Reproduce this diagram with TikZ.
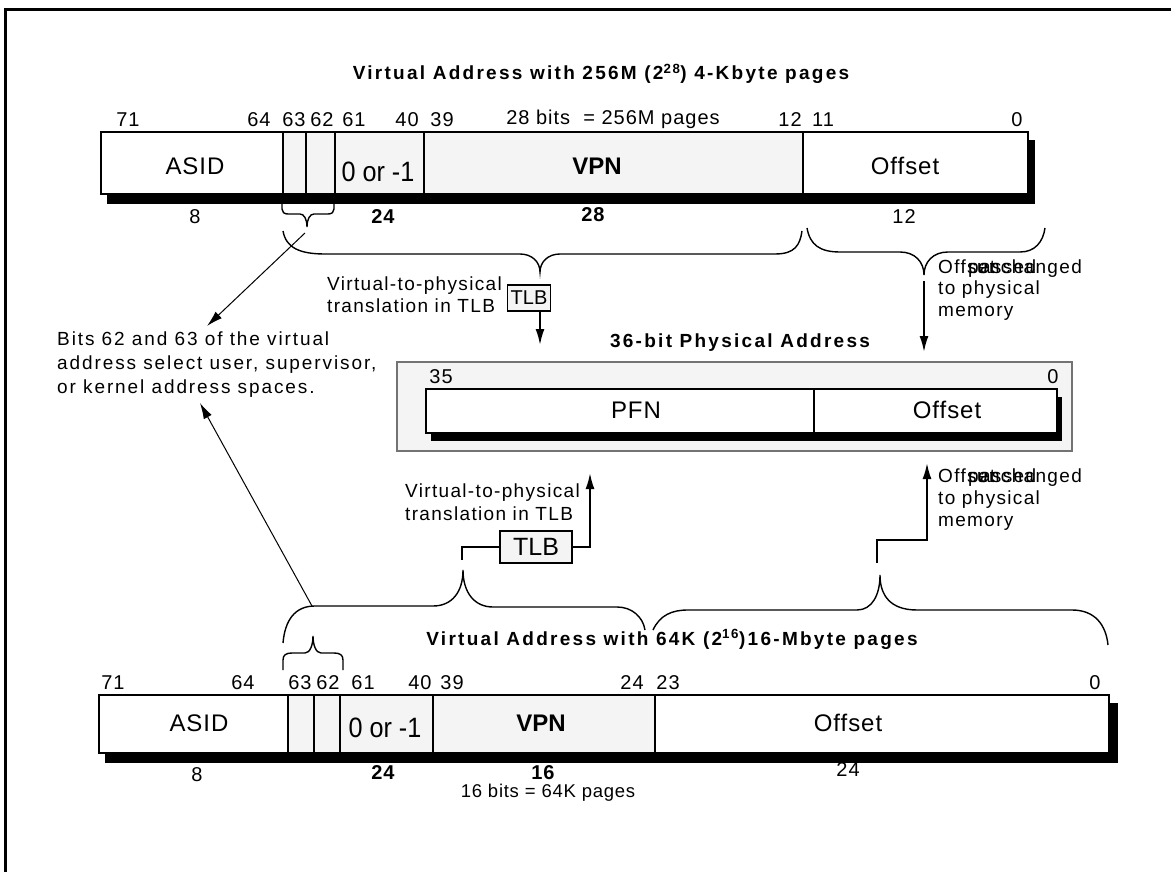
\documentclass[tikz,border=0pt]{standalone}
\usepackage{fontspec}
\usepackage{graphicx}
\setmainfont{Liberation Sans}
\usetikzlibrary{arrows.meta}
\definecolor{cellgray}{HTML}{F4F4F4}
\newcommand{\fs}[1]{\fontsize{#1}{#1}\selectfont}
\newcommand{\zeroone}[1]{\scalebox{0.9}[1]{\fs{#1}0 or -1}}
\begin{document}
\begin{tikzpicture}[x=1pt,y=-1pt,
  lbl/.style={inner sep=0pt, anchor=base, font=\fs{20}\addfontfeature{LetterSpace=5}},
  blbl/.style={inner sep=0pt, anchor=base, font=\bfseries\fs{20}\addfontfeature{LetterSpace=4}},
  txt/.style={inner sep=0pt, anchor=base west, font=\fs{19}\addfontfeature{LetterSpace=7}},
  note/.style={inner sep=0pt, anchor=base west, font=\fs{19}\addfontfeature{LetterSpace=10}},
  ttl/.style={inner sep=0pt, anchor=base, font=\bfseries\fs{19}\addfontfeature{LetterSpace=12}},
  big/.style={inner sep=0pt, anchor=base, font=\fs{24}\addfontfeature{LetterSpace=4}},
  bigb/.style={inner sep=0pt, anchor=base, font=\bfseries\fs{24}},
  cell/.style={draw, line width=2pt, anchor=north west, inner sep=0pt},
  tlbbox/.style={draw, line width=1.6pt, fill=cellgray, inner sep=0pt},
  brace/.style={line width=1.4pt},
  thinarrow/.style={line width=1pt, -{Latex[length=16pt,width=9pt]}},
  thickarrow/.style={line width=2pt, -{Latex[length=16pt,width=9pt]}},
  thickline/.style={line width=2pt}]
\useasboundingbox (0,0) rectangle (1171,872);
% frame
\draw[line width=3pt] (5,872) -- (5,10) -- (1171,10);

% ---------------- top virtual address ----------------
\node[ttl] (t1) at (601,80) {Virtual Address with 256M (2\textsuperscript{28}) 4-Kbyte pages};
\fill (107,140) rectangle (1035,204);
\node[cell, fill=white, minimum width=182, minimum height=62] (tasid) at (100,131) {};
\node[cell, fill=cellgray, minimum width=23, minimum height=62] (t63) at (282,131) {};
\node[cell, fill=cellgray, minimum width=29, minimum height=62] (t62) at (305,131) {};
\node[cell, fill=cellgray, minimum width=89, minimum height=62] (t01) at (334,131) {};
\node[cell, fill=cellgray, minimum width=379, minimum height=62] (tvpn) at (423,131) {};
\node[cell, fill=white, minimum width=225, minimum height=62] (toff) at (802,131) {};
\node[big] (tasidt) at (195,175) {ASID};
\node[inner sep=0pt, anchor=base] (t01t) at (378,182) {\zeroone{28}};
\node[bigb] (tvpnt) at (597,175) {VPN};
\node[big] (tofft) at (905,175) {Offset};
\node[lbl] (tl71) at (128,127) {71};
\node[lbl] (tl64) at (259,127) {64};
\node[lbl] (tl63) at (294,127) {63};
\node[lbl] (tl62) at (322,127) {62};
\node[lbl] (tl61) at (354,127) {61};
\node[lbl] (tl40) at (407,127) {40};
\node[lbl] (tl39) at (442,127) {39};
\node[lbl] (tlbits) at (613,125) {28 bits~ = 256M pages};
\node[lbl] (tl12) at (790,127) {12};
\node[lbl] (tl11) at (823,127) {11};
\node[lbl] (tl0) at (1017,127) {0};
\node[lbl] (tb8) at (195,223) {8};
\node[blbl] (tb24) at (383,223) {24};
\node[blbl] (tb28) at (593,222) {28};
\node[lbl] (tb12) at (904,223) {12};

% braces (top)
\draw[brace] (282,204) -- (282,209) .. controls (282,212) and (284,214) .. (288,214) -- (300,214) .. controls (304,214) and (307,219) .. (307,227) .. controls (307,219) and (310,214) .. (314,214) -- (328,214) .. controls (332,214) and (334,212) .. (334,209) -- (334,204);
\coordinate (tsmalltip) at (305,233);
\draw[brace] (283,231) .. controls (286,248) and (300,254) .. (325,254) -- (520,254) .. controls (532,254) and (540,262) .. (540,272) .. controls (540,262) and (548,254) .. (560,254) -- (775,254) .. controls (795,254) and (800,245) .. (802,231);
\draw[brace] (807,228) .. controls (810,245) and (820,252) .. (840,252) -- (900,252) .. controls (915,252) and (924,262) .. (924,275) .. controls (924,262) and (933,252) .. (948,252) -- (1020,252) .. controls (1035,252) and (1043,242) .. (1045,228);

% top TLB
\node[txt] (v2p1a) at (327,290) {Virtual-to-physical};
\node[txt] (v2p1b) at (327,312) {translation in TLB};
\node[tlbbox, minimum width=43, minimum height=26, font=\fs{20}] (tlb1) at (529,298) {TLB};
\coordinate (pa1) at (540,345);
\draw[thickarrow] (tlb1.south -| pa1) -- (pa1);

% offset passed (top)
\coordinate (obrt) at (924,281);
\coordinate (pa2) at (924,352);
\draw[thickarrow] (obrt) -- (pa2);
\node[txt] (op1a) at (938,273) {Offset};
\node[txt] (op1c) at (977,273) {unchanged};
\node[txt] (op1b) at (968,273) {passed};
\node[txt] (op1d) at (938,294) {to physical};
\node[txt] (op1e) at (938,316) {memory};

% bits note
\node[note] (n1) at (57,345) {Bits 62 and 63 of the virtual};
\node[note] (n2) at (57,369) {address select user, supervisor,};
\node[note] (n3) at (57,393) {or kernel address spaces.};
\coordinate (n1tip) at (207,326);
\coordinate (n3tip) at (200,403);
\draw[thinarrow] (tsmalltip) -- (n1tip);

% ---------------- physical address ----------------
\node[ttl] (pt) at (740,347) {36-bit Physical Address};
\draw[draw=black!55, line width=1.2pt, fill=cellgray] (397,362) rectangle (1072,451);
\fill (431,397) rectangle (1062,441);
\node[cell, fill=white, minimum width=388, minimum height=44] (pfn) at (425,388) {};
\node[cell, fill=white, minimum width=243, minimum height=44] (poff) at (813,388) {};
\node[big] (pfnt) at (636,418) {PFN};
\node[big] (pofft) at (947,418) {Offset};
\node[lbl] (p35) at (441,383) {35};
\node[lbl] (p0) at (1053,383) {0};

% ---------------- bottom TLB ----------------
\node[txt] (v2p2a) at (405,497) {Virtual-to-physical};
\node[txt] (v2p2b) at (405,520) {translation in TLB};
\node[tlbbox, minimum width=72, minimum height=32, font=\fs{25}] (tlb2) at (536,547) {TLB};
\coordinate (bvtop) at (462,560);
\coordinate (pa3) at (590,473);
\draw[thickline] (bvtop) |- (tlb2.west);
\draw[thickarrow] (tlb2.east) -| (pa3);

\coordinate (botop) at (877,563);
\coordinate (pa4) at (927,463);
\draw[thickarrow] (botop) -- (877,540) -- (927,540) -- (pa4);
\node[txt] (op2a) at (938,482) {Offset};
\node[txt] (op2c) at (977,482) {unchanged};
\node[txt] (op2b) at (968,482) {passed};
\node[txt] (op2d) at (938,504) {to physical};
\node[txt] (op2e) at (938,526) {memory};

% braces (bottom)
\draw[brace] (283,643) .. controls (285,620) and (295,606) .. (315,606) -- (433,606) .. controls (452,606) and (463,592) .. (463,570) .. controls (463,592) and (474,607) .. (493,607) -- (617,607) .. controls (632,607) and (643,617) .. (645,630);
\coordinate (bbigl) at (312,606);
\draw[thinarrow] (bbigl) -- (n3tip);
\draw[brace] (653,630) .. controls (660,615) and (672,610) .. (688,610) -- (857,610) .. controls (872,610) and (880,595) .. (880,575) .. controls (880,595) and (890,610) .. (917,610) -- (1072,610) .. controls (1095,610) and (1106,625) .. (1108,645);
\draw[brace] (283,670) -- (283,660) .. controls (283,655) and (286,653) .. (292,653) -- (305,653) .. controls (310,653) and (313,645) .. (313,636) .. controls (313,645) and (316,653) .. (321,653) -- (334,653) .. controls (340,653) and (343,655) .. (343,660) -- (343,670);

% ---------------- bottom virtual address ----------------
\node[ttl] (t2) at (672,645) {Virtual Address with 64K (2\textsuperscript{16})16-Mbyte pages};
\fill (105,703) rectangle (1118,763);
\node[cell, fill=white, minimum width=189, minimum height=58] (basid) at (98,694) {};
\node[cell, fill=cellgray, minimum width=26, minimum height=58] (b63) at (287,694) {};
\node[cell, fill=cellgray, minimum width=26, minimum height=58] (b62) at (313,694) {};
\node[cell, fill=cellgray, minimum width=93, minimum height=58] (b01) at (339,694) {};
\node[cell, fill=cellgray, minimum width=222, minimum height=58] (bvpn) at (432,694) {};
\node[cell, fill=white, minimum width=454, minimum height=58] (boff) at (654,694) {};
\node[big] (basidt) at (199,731) {ASID};
\node[inner sep=0pt, anchor=base] (b01t) at (385,737) {\zeroone{28}};
\node[bigb] (bvpnt) at (541,731) {VPN};
\node[big] (bofft) at (848,731) {Offset};
\node[lbl] (bl71) at (113,689) {71};
\node[lbl] (bl64) at (243,689) {64};
\node[lbl] (bl63) at (300,689) {63};
\node[lbl] (bl62) at (328,689) {62};
\node[lbl] (bl61) at (363,689) {61};
\node[lbl] (bl40) at (420,689) {40};
\node[lbl] (bl39) at (452,689) {39};
\node[lbl] (bl24) at (632,689) {24};
\node[lbl] (bl23) at (668,689) {23};
\node[lbl] (bl0) at (1095,689) {0};
\node[lbl] (bb8) at (197,781) {8};
\node[blbl] (bb24) at (383,779) {24};
\node[blbl] (bb16) at (543,779) {16};
\node[lbl] (bb24b) at (848,776) {24};
\node[lbl, font=\fs{18.5}\addfontfeature{LetterSpace=4}] (bbits) at (548,797) {16 bits = 64K pages};
\end{tikzpicture}
\end{document}
